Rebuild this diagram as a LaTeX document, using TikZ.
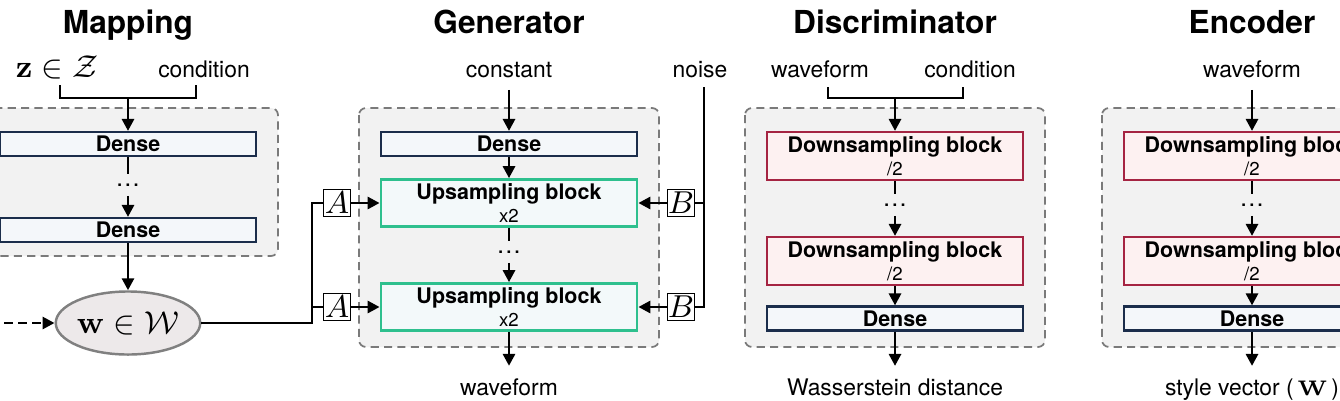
\documentclass[tikz,border=0pt]{standalone}
\usepackage{amsmath}
\usepackage{amssymb}
\usepackage[no-math]{fontspec}
\setmainfont{TeX Gyre Heros}
\usetikzlibrary{arrows.meta}
\usetikzlibrary{shapes.geometric}
\usetikzlibrary{calc}

\definecolor{densefill}{HTML}{F4F7FA}
\definecolor{denseline}{HTML}{1B2D4B}
\definecolor{upfill}{HTML}{F3F9FA}
\definecolor{upline}{HTML}{2EC08E}
\definecolor{downfill}{HTML}{FDF1F1}
\definecolor{downline}{HTML}{A52442}
\definecolor{panelfill}{HTML}{F2F2F2}
\definecolor{panelline}{HTML}{7A7A7A}
\definecolor{latentfill}{HTML}{EDE9EA}

\tikzset{
  title/.style={font=\fontsize{9}{10}\selectfont\bfseries, anchor=base},
  lbl/.style={font=\fontsize{6.5}{7.5}\selectfont, anchor=base},
  mathlbl/.style={font=\fontsize{9}{10}\selectfont, anchor=base},
  panel/.style={draw=panelline, fill=panelfill, line width=0.5pt,
    dash pattern=on 2.3pt off 1.5pt, rounded corners=2pt},
  blk/.style={minimum width=2.56cm, inner sep=0pt, align=center,
    font=\fontsize{6.1}{6.6}\selectfont\bfseries},
  denseblk/.style={blk, draw=denseline, fill=densefill, line width=0.6pt, minimum height=0.24cm},
  upblk/.style={blk, draw=upline, fill=upfill, line width=0.75pt, minimum height=0.47cm},
  downblk/.style={blk, draw=downline, fill=downfill, line width=0.6pt, minimum height=0.48cm},
  dotsnode/.style={inner sep=2.5pt, font=\fontsize{7}{7.5}\selectfont},
  modbox/.style={draw, fill=white, line width=0.5pt, minimum size=0.27cm, inner sep=0pt,
    font=\fontsize{9}{10}\selectfont},
  latent/.style={ellipse, draw=gray, fill=latentfill, line width=0.7pt,
    minimum width=1.35cm, minimum height=0.63cm, inner sep=0pt, font=\fontsize{9}{10}\selectfont},
  conn/.style={line width=0.8pt},
  arr/.style={conn, -{Triangle[length=3.4pt,width=3.4pt]}},
}
\newcommand{\subline}[1]{\\{\mdseries\fontsize{5.3}{6.6}\selectfont #1}}

\begin{document}
\begin{tikzpicture}[x=0.01cm,y=-0.01cm]

\useasboundingbox (0,0) rectangle (1340,400);
\clip (0,0) rectangle (1340,400);

% panels
\draw[panel] (-22,108) rectangle (278,256);
\draw[panel] (359,108) rectangle (659,347);
\draw[panel] (745,108) rectangle (1045,347);
\draw[panel] (1102,108) rectangle (1402,347);

% titles
\node[title] (tmap) at (128,33) {Mapping};
\node[title] (tgen) at (509,33) {Generator};
\node[title] (tdis) at (895,33) {Discriminator};
\node[title] (tenc) at (1252,33) {Encoder};

% mapping
\node[mathlbl] (zin) at (57,77) {$\mathbf{z}\in\mathcal{Z}$};
\node[lbl] (mcond) at (204,77) {condition};
\node[denseblk] (md1) at (128,144) {Dense};
\node[dotsnode] (mdots) at (128,185) {\dots};
\node[denseblk] (md2) at (128,230) {Dense};
\node[latent] (wlat) at (128,323) {$\mathbf{w}\in\mathcal{W}$};

\coordinate (zfoot) at (60,85);
\coordinate (cfoot) at (196,85);
\coordinate (mjoin) at (128,98);
\coordinate (wext) at (-10,323);
\draw[conn] (zfoot) |- (mjoin) -| (cfoot);
\draw[arr] (mjoin) -- (md1);
\draw[conn] (md1) -- (mdots);
\draw[arr] (mdots) -- (md2);
\draw[arr] (md2) -- (wlat);
\draw[arr, dash pattern=on 2.5pt off 1.5pt] (wext) -- (wlat.west);

% generator
\node[lbl] (gconst) at (509,77) {constant};
\node[lbl] (gnoise) at (700,77) {noise};
\node[denseblk] (gd) at (509,144) {Dense};
\node[upblk] (gu1) at (509,203) {Upsampling block\subline{x2}};
\node[dotsnode] (gdots) at (509,252) {\dots};
\node[upblk] (gu2) at (509,307) {Upsampling block\subline{x2}};
\node[lbl] (gout) at (509,395) {waveform};
\node[modbox] (gA1) at (337,203) {$A$};
\node[modbox] (gA2) at (337,307) {$A$};
\node[modbox] (gB1) at (681,203) {$B$};
\node[modbox] (gB2) at (681,307) {$B$};

\draw[arr] (gconst) -- (gd);
\draw[arr] (gd) -- (gu1);
\draw[conn] (gu1) -- (gdots);
\draw[arr] (gdots) -- (gu2);
\draw[arr] (gu2) -- (gout);

\coordinate (wsplit) at (312,323);
\draw[conn] (wlat.east) -- (wsplit) |- (gA1.west);
\draw[conn] (wsplit |- gA2) -- (gA2.west);
\draw[arr] (gA1) -- (gu1);
\draw[arr] (gA2) -- (gu2);

\coordinate (ntop) at (704,87);
\draw[conn] (ntop) |- (gB2.east);
\draw[conn] (ntop |- gB1) -- (gB1.east);
\draw[arr] (gB1) -- (gu1);
\draw[arr] (gB2) -- (gu2);

% discriminator
\node[lbl] (dwave) at (820,77) {waveform};
\node[lbl] (dcond) at (970,77) {condition};
\node[downblk] (dd1) at (895,156) {Downsampling block\subline{/2}};
\node[dotsnode] (ddots) at (895,205) {\dots};
\node[downblk] (dd2) at (895,261) {Downsampling block\subline{/2}};
\node[denseblk] (dde) at (895,318.5) {Dense};
\node[lbl] (dout) at (895,395) {Wasserstein distance};

\coordinate (wfoot) at (828,87);
\coordinate (dfoot) at (963,87);
\coordinate (djoin) at (895,98);
\draw[conn] (wfoot) |- (djoin) -| (dfoot);
\draw[arr] (djoin) -- (dd1);
\draw[conn] (dd1) -- (ddots);
\draw[arr] (ddots) -- (dd2);
\draw[arr] (dd2) -- (dde);
\draw[arr] (dde) -- (dout);

% encoder
\node[lbl] (ewave) at (1252,77) {waveform};
\node[downblk] (ed1) at (1252,156) {Downsampling block\subline{/2}};
\node[dotsnode] (edots) at (1252,205) {\dots};
\node[downblk] (ed2) at (1252,261) {Downsampling block\subline{/2}};
\node[denseblk] (ede) at (1252,318.5) {Dense};
\node[lbl] (eout) at (1252,395) {style vector (\,$\mathbf{W}$\,)};

\draw[arr] (ewave) -- (ed1);
\draw[conn] (ed1) -- (edots);
\draw[arr] (edots) -- (ed2);
\draw[arr] (ed2) -- (ede);
\draw[arr] (ede) -- (eout);

\end{tikzpicture}
\end{document}
